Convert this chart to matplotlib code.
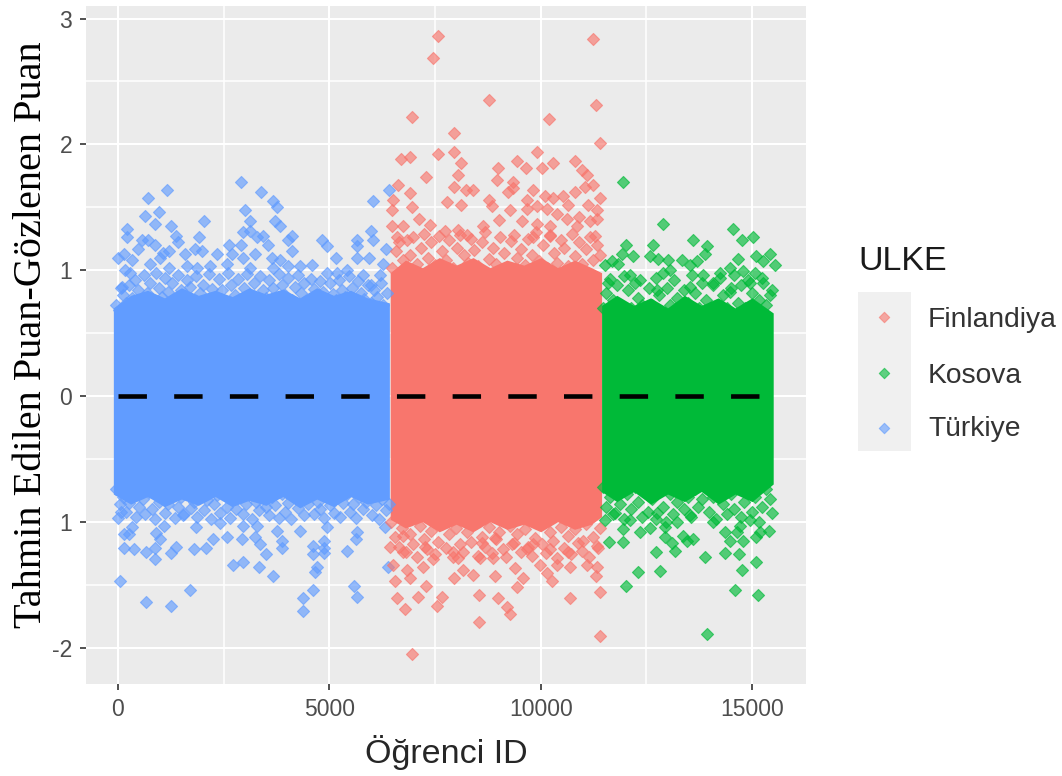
"""Tahmin edilen - gozlenen puan, ulkelere gore dagilim"""
import matplotlib
matplotlib.use('Agg')
import matplotlib.pyplot as plt
from matplotlib.patches import Rectangle

plt.rcParams['font.family'] = ['Liberation Sans', 'DejaVu Sans']

ulke_names = ['Finlandiya', 'Kosova', 'Türkiye']
ulke_colors = ['#F8766D', '#00BA38', '#619CFF']

x_ticks = [0, 5000, 10000, 15000]
y_ticks = [-2, -1, 0, 1, 2, 3]
y_tick_labels = ['-2', '1', '0', '1', '2', '3']  # resimde -1 yerine "1" yaziyor

# tek tek okunabilen noktalar (ID, fark)
turkiye_x = [1152, 702, 2903, 3376, 3660, 3770, 978, 647, 3013, 867, 3123, 2035, 1262, 205, 205,
             3715, 3833, 1924, 1372, 1428, 2965, 3123, 3281, 3439, 2903, 3557, 4109, 4030, 4109,
             4819, 4937, 5160, 5647, 5647, 6026, 6026, 5980, 6420, 5647, 5931, 6348, 1822, 1979,
             1585, 10, 150, 323, 165, 283, 560, 480, 718, 875, 1073, 1215, 757, 993, 2634, 2690,
             2335, 2965, 3241, 3636, 3833, 3675, 4030, 4307, 4583, 4937, 5175, 5412, 5805, 6278,
             6199, 5980, 87, 1624, 1861, 2176, 2570, 3123, 1215,
             47, 654, 1254, 1703, 4385, 4385, 4606, 4662, 4717, 5593, 5647, 3675, 3344, 2965, 2728,
             3502, 3889, 3889, 3360, 3241, 2926, 2570, 2239, 2081, 1806, 1372, 1254, 867, 654, 378,
             150, 875, 993, 899, 252, 134, 323, 4606, 4606, 4882, 4882, 4882, 5427, 5647, 5632,
             4307, 3770, 4937, 1845, 2949, 3281, 6320, 10, 70, 1530, 1080, 2410, 6395]
turkiye_y = [1.64, 1.57, 1.70, 1.62, 1.55, 1.50, 1.46, 1.43, 1.48, 1.37, 1.39, 1.39, 1.35, 1.33, 1.26,
             1.39, 1.35, 1.26, 1.27, 1.22, 1.30, 1.31, 1.26, 1.27, 1.20, 1.20, 1.27, 1.24, 1.15,
             1.24, 1.19, 1.10, 1.24, 1.19, 1.55, 1.24, 1.31, 1.64, 1.10, 1.10, 1.17, 1.17, 1.15,
             1.13, 1.10, 1.13, 1.08, 1.00, 0.98, 1.24, 1.17, 1.24, 1.20, 1.14, 1.15, 1.05, 1.10, 1.20, 1.13,
             1.13, 1.10, 1.13, 1.10, 1.08, 1.02, 1.03, 1.03, 1.04, 0.98, 0.98, 1.00, 0.96, 1.05,
             0.96, 0.88, 0.87, 1.03, 1.02, 1.03, 1.05, 1.02, 1.02,
             -1.47, -1.64, -1.67, -1.54, -1.61, -1.71, -1.54, -1.40, -1.36, -1.51, -1.60, -1.43, -1.36, -1.32, -1.34,
             -1.26, -1.21, -1.15, -1.18, -1.12, -1.14, -1.12, -1.14, -1.21, -1.22, -1.20, -1.25, -1.30, -1.24, -1.22,
             -1.21, -1.21, -1.14, -1.09, -1.10, -1.10, -1.04, -1.19, -1.26, -1.15, -1.21, -1.25, -1.23, -1.08, -1.14,
             -1.07, -1.07, -1.04, -1.04, -1.03, -1.03, -1.04, -0.97, -0.92, -0.95, -1.03, -1.01, -1.36]

finlandiya_x = [7571, 7460, 11246, 8778, 11309, 6964, 10205, 7950, 11404, 7950, 7563, 9922, 6909, 6689,
                8116, 8991, 9432, 9646, 10040, 10300, 10812, 7288, 8052, 10971, 11089, 11246, 11049,
                10812, 6633, 7950, 8226, 8406, 8959, 9354, 9354, 9236, 9827, 6909, 6514, 11404, 7792,
                8116, 8778, 8841, 9670, 10103, 10300, 10536, 6475, 6964, 9275, 9670, 9906, 10142, 10639,
                11128, 11325, 9023, 9551, 9922, 10379, 10617, 10907, 11325, 6475, 6751, 7122, 7382, 8052,
                7737, 8644, 10221, 10853, 11167, 9827, 10221, 11286, 6594, 8250,
                6964, 11404, 8549, 9275, 9196, 7555, 6798, 6594, 7106, 7673, 8549, 8991, 10694, 11404,
                9433, 7288, 6554, 6909, 9590, 10261, 11309, 7950, 8920, 8406, 7224, 6831, 6499, 9393,
                9985, 10380, 10694, 11325, 11089, 10142, 8170, 7460, 8052, 8880, 8565, 6436, 6751, 7264,
                7933, 8605, 9315, 9670, 10221, 10654, 11002, 11365, 8920, 9827, 6743]
finlandiya_y = [2.86, 2.69, 2.84, 2.35, 2.31, 2.22, 2.20, 2.09, 2.01, 1.94, 1.92, 1.94, 1.90, 1.88,
                1.85, 1.81, 1.87, 1.81, 1.81, 1.85, 1.87, 1.74, 1.76, 1.80, 1.76, 1.68, 1.66,
                1.62, 1.68, 1.66, 1.64, 1.64, 1.72, 1.70, 1.65, 1.62, 1.64, 1.61, 1.56, 1.57, 1.54,
                1.52, 1.56, 1.51, 1.56, 1.59, 1.57, 1.59, 1.48, 1.50, 1.48, 1.49, 1.51, 1.49, 1.52,
                1.52, 1.48, 1.40, 1.39, 1.37, 1.45, 1.41, 1.42, 1.41, 1.35, 1.35, 1.41, 1.36, 1.32,
                1.31, 1.35, 1.35, 1.35, 1.39, 1.26, 1.28, 1.27, 1.26, 1.28,
                -2.05, -1.91, -1.80, -1.73, -1.68, -1.67, -1.69, -1.61, -1.60, -1.60, -1.58, -1.61, -1.61, -1.56,
                -1.52, -1.51, -1.47, -1.45, -1.45, -1.47, -1.43, -1.45, -1.43, -1.42, -1.36, -1.38, -1.34, -1.37,
                -1.34, -1.34, -1.36, -1.36, -1.34, -1.41, -1.38, -1.30, -1.29, -1.29, -1.29, -1.20, -1.24, -1.20,
                -1.24, -1.17, -1.18, -1.22, -1.22, -1.24, -1.15, -1.21, -1.13, -1.18, -1.11]

kosova_x = [11956, 12887, 14543, 14764, 15032, 13612, 13943, 13888, 12665, 12012, 11932, 12177, 12587,
            12784, 13337, 13692, 13021, 15426, 15087, 14676, 15545, 15268, 14480, 14243, 13534, 11680,
            11522, 11837, 15467, 15230, 13060, 11600, 12114, 12350, 13849, 14795, 14085, 14953, 12745,
            14480, 13534,
            13928, 15150, 14590, 12012, 12311, 12832, 14764, 15087, 13881, 14700, 14370, 12729, 13171,
            13100, 11625, 11956, 13455, 13612, 14480, 14795, 11956, 12350, 12942, 13375, 14362, 14637,
            15087, 15410, 15190, 12587, 12942, 14085, 14717, 15467, 13534, 12114, 11522, 11759, 12745,
            13218, 14953]
kosova_y = [1.70, 1.37, 1.33, 1.24, 1.26, 1.24, 1.19, 1.13, 1.20, 1.20, 1.13, 1.11, 1.11,
            1.09, 1.08, 1.07, 1.08, 1.13, 1.11, 1.09, 1.04, 1.07, 1.02, 0.98, 1.04, 1.07,
            1.04, 1.05, 0.84, 0.94, 1.00, 0.90, 0.96, 0.92, 0.96, 0.99, 0.90, 0.90, 0.84,
            0.83, 0.87,
            -1.89, -1.58, -1.54, -1.51, -1.40, -1.39, -1.38, -1.32, -1.28, -1.26, -1.25, -1.24, -1.23,
            -1.17, -1.16, -1.16, -1.15, -1.14, -1.15, -1.15, -1.06, -1.08, -1.12, -1.11, -1.08, -1.08,
            -1.12, -1.07, -1.08, -1.05, -1.04, -1.00, -1.03, -0.93, -0.95, -0.99, -0.99, -0.93, -0.93,
            -1.00, -0.99]

# govde kenari: tam sayilamayan bolge, yaklasik tahmin edilmis noktalar
turkiye_edge_x = [-40, 60, 120, 30, 190, 260, 330, 410, 470, 540, 620, 680, 750, 830, 900, 960, 1040, 1120,
                  1190, 1270, 1340, 1420, 1480, 1560, 1640, 1710, 1790, 1850, 1930, 2010, 2090, 2150, 2230,
                  2310, 2380, 2460, 2530, 2610, 2680, 2760, 2840, 2900, 2980, 3060, 3130, 3210, 3290, 3350,
                  3430, 3510, 3580, 3660, 3740, 3800, 3880, 3960, 4030, 4110, 4190, 4250, 4330, 4410, 4480,
                  4560, 4640, 4700, 4780, 4860, 4930, 5010, 5090, 5150, 5230, 5310, 5380, 5460, 5540, 5600,
                  5680, 5760, 5830, 5910, 5990, 6050, 6130, 6210, 6280, 6360,
                  -50, 40, 110, 190, 270, 350, 420, 500, 580, 650, 730, 810, 880, 960, 1040, 1110, 1190, 1270,
                  1340, 1420, 1500, 1570, 1650, 1730, 1800, 1880, 1960, 2030, 2110, 2190, 2260, 2340, 2420,
                  2490, 2570, 2650, 2720, 2800, 2880, 2950, 3030, 3110, 3180, 3260, 3340, 3410, 3490, 3570,
                  3640, 3720, 3800, 3870, 3950, 4030, 4100, 4180, 4260, 4330, 4410, 4490, 4560, 4640, 4720,
                  4790, 4870, 4950, 5020, 5100, 5180, 5250, 5330, 5410, 5480, 5560, 5640, 5710, 5790, 5870,
                  5940, 6020, 6100, 6170, 6250, 6330, 6400]
turkiye_edge_y = [0.72, 0.86, 0.80, 0.68, 0.74, 0.88, 0.78, 0.92, 0.84, 0.74, 0.96, 0.82, 0.90, 0.76, 0.98, 0.86,
                  0.79, 0.94, 0.83, 0.90, 0.75, 0.96, 0.84, 0.78, 0.92, 0.87, 0.74, 0.95, 0.82, 0.88, 0.76, 0.97,
                  0.85, 0.79, 0.93, 0.84, 0.75, 0.98, 0.88, 0.80, 0.93, 0.76, 0.86, 0.97, 0.81, 0.90, 0.75, 0.95,
                  0.84, 0.78, 0.92, 0.86, 0.74, 0.97, 0.88, 0.80, 0.94, 0.76, 0.87, 0.96, 0.82, 0.90, 0.75, 0.93,
                  0.85, 0.78, 0.91, 0.83, 0.74, 0.90, 0.81, 0.76, 0.92, 0.84, 0.79, 0.95, 0.86, 0.75, 0.91, 0.82,
                  0.77, 0.88, 0.74, 0.84, 0.79, 0.90, 0.72, 0.82,
                  -0.74, -0.86, -0.80, -0.92, -0.85, -0.78, -0.96, -0.88, -0.82, -0.94, -0.76, -0.90, -0.98, -0.84,
                  -0.79, -0.93, -0.86, -0.76, -0.97, -0.88, -0.80, -0.94, -0.78, -0.89, -0.84, -0.96, -0.75, -0.91,
                  -0.83, -0.98, -0.86, -0.79, -0.93, -0.76, -0.88, -0.97, -0.82, -0.90, -0.75, -0.94, -0.86, -0.79,
                  -0.98, -0.84, -0.91, -0.76, -0.88, -0.95, -0.80, -0.87, -0.97, -0.78, -0.92, -0.85, -0.98, -0.76,
                  -0.89, -0.82, -0.95, -0.86, -0.78, -0.94, -0.84, -0.90, -0.97, -0.76, -0.87, -0.93, -0.81, -0.96,
                  -0.85, -0.78, -0.92, -0.86, -0.97, -0.80, -0.90, -0.84, -0.76, -0.95, -0.87, -0.98, -0.82, -0.91,
                  -0.86]

finlandiya_edge_x = [6480, 6570, 6650, 6740, 6830, 6900, 6990, 7080, 7160, 7250, 7330, 7410, 7500, 7590, 7670, 7760,
                     7840, 7920, 8010, 8100, 8180, 8270, 8350, 8430, 8520, 8610, 8690, 8780, 8860, 8940, 9030, 9120,
                     9200, 9290, 9370, 9450, 9540, 9630, 9710, 9800, 9880, 9960, 10050, 10140, 10220, 10310, 10390,
                     10470, 10560, 10650, 10730, 10820, 10900, 10980, 11070, 11160, 11240, 11330, 11400,
                     6470, 6560, 6640, 6730, 6810, 6900, 6980, 7070, 7150, 7240, 7320, 7410, 7490, 7580, 7660, 7750,
                     7830, 7920, 8000, 8090, 8170, 8260, 8340, 8430, 8510, 8600, 8680, 8770, 8850, 8940, 9020, 9110,
                     9190, 9280, 9360, 9450, 9530, 9620, 9700, 9790, 9870, 9960, 10040, 10130, 10210, 10300, 10380,
                     10470, 10550, 10640, 10720, 10810, 10890, 10980, 11060, 11150, 11230, 11320, 11410]
finlandiya_edge_y = [1.02, 1.15, 1.22, 1.08, 1.24, 1.12, 1.26, 1.05, 1.18, 1.29, 1.10, 1.22, 1.04, 1.27, 1.15, 1.08,
                     1.24, 1.02, 1.18, 1.28, 1.12, 1.06, 1.25, 1.16, 1.03, 1.22, 1.30, 1.09, 1.18, 1.05, 1.26, 1.14,
                     1.02, 1.23, 1.28, 1.10, 1.17, 1.04, 1.25, 1.12, 1.30, 1.07, 1.20, 1.02, 1.27, 1.14, 1.06, 1.24,
                     1.18, 1.03, 1.29, 1.11, 1.22, 1.05, 1.17, 1.26, 1.08, 1.20, 1.12,
                     -1.00, -1.12, -1.20, -1.05, -1.24, -1.10, -1.18, -1.28, -1.03, -1.14, -1.22, -1.07, -1.26, -1.16,
                     -1.02, -1.21, -1.10, -1.28, -1.05, -1.18, -1.24, -1.08, -1.16, -1.02, -1.27, -1.12, -1.20, -1.04,
                     -1.25, -1.14, -1.08, -1.22, -1.28, -1.03, -1.17, -1.10, -1.24, -1.06, -1.20, -1.27, -1.13, -1.02,
                     -1.18, -1.25, -1.08, -1.15, -1.29, -1.04, -1.21, -1.11, -1.26, -1.06, -1.17, -1.23, -1.02, -1.28,
                     -1.12, -1.19, -1.05]

kosova_edge_x = [11470, 11550, 11640, 11720, 11800, 11890, 11970, 12060, 12140, 12220, 12310, 12390, 12480, 12560,
                 12640, 12730, 12810, 12900, 12980, 13060, 13150, 13230, 13320, 13400, 13480, 13570, 13650, 13740,
                 13820, 13900, 13990, 14070, 14160, 14240, 14320, 14410, 14490, 14580, 14660, 14740, 14830, 14910,
                 15000, 15080, 15160, 15250, 15330, 15420,
                 11470, 11540, 11630, 11710, 11800, 11880, 11970, 12050, 12130, 12220, 12300, 12390, 12470, 12550,
                 12640, 12720, 12810, 12890, 12970, 13060, 13140, 13230, 13310, 13390, 13480, 13560, 13650, 13730,
                 13810, 13900, 13980, 14070, 14150, 14230, 14320, 14400, 14490, 14570, 14650, 14740, 14820, 14910,
                 14990, 15070, 15160, 15240, 15330, 15420]
kosova_edge_y = [0.70, 0.82, 0.93, 0.76, 0.88, 0.72, 0.95, 0.84, 0.70, 0.90, 0.78, 0.72, 0.66, 0.86, 0.72, 0.94,
                 0.80, 0.98, 0.86, 0.72, 0.92, 0.78, 0.68, 0.84, 0.74, 0.96, 0.82, 0.70, 0.90, 0.76, 0.66, 0.88,
                 0.72, 0.94, 0.80, 0.70, 0.86, 0.96, 0.74, 0.88, 0.70, 0.92, 0.82, 0.98, 0.76, 0.90, 0.72, 0.80,
                 -0.72, -0.88, -0.80, -0.94, -0.74, -0.86, -0.98, -0.78, -0.90, -0.72, -0.84, -0.96, -0.76, -0.92,
                 -0.82, -0.98, -0.70, -0.88, -1.00, -0.78, -0.94, -0.84, -0.72, -0.90, -0.80, -0.96, -0.74, -0.88,
                 -0.82, -0.70, -0.92, -0.80, -0.98, -0.74, -0.86, -0.94, -0.78, -0.90, -0.70, -0.96, -0.84, -0.76,
                 -0.92, -0.80, -1.00, -0.88, -0.74, -0.82]

# noktalarin tamamen ortustugu govde tek tek okunamiyor, ust/alt siniri okunup alan olarak cizildi
turkiye_band_x = [-110, 300, 700, 1100, 1500, 1900, 2300, 2700, 3100, 3500, 3900, 4300, 4700, 5100, 5500, 5900, 6420]
turkiye_top = [0.70, 0.80, 0.84, 0.78, 0.86, 0.80, 0.84, 0.79, 0.86, 0.81, 0.85, 0.78, 0.86, 0.80, 0.84, 0.78, 0.74]
turkiye_bottom = [-0.78, -0.86, -0.80, -0.88, -0.82, -0.87, -0.80, -0.88, -0.83, -0.87, -0.80, -0.89, -0.82, -0.88, -0.80, -0.86, -0.82]

finlandiya_band_x = [6440, 6800, 7200, 7600, 8000, 8400, 8800, 9200, 9600, 10000, 10400, 10800, 11200, 11440]
finlandiya_top = [0.98, 1.08, 1.02, 1.10, 1.04, 1.10, 1.02, 1.08, 1.04, 1.10, 1.02, 1.08, 1.02, 0.98]
finlandiya_bottom = [-0.98, -1.05, -1.00, -1.08, -1.02, -1.08, -1.00, -1.06, -1.02, -1.08, -1.00, -1.06, -1.02, -0.96]

kosova_band_x = [11440, 11800, 12200, 12600, 13000, 13400, 13800, 14200, 14600, 15000, 15500]
kosova_top = [0.72, 0.80, 0.72, 0.78, 0.70, 0.80, 0.72, 0.78, 0.70, 0.78, 0.66]
kosova_bottom = [-0.76, -0.84, -0.76, -0.86, -0.78, -0.84, -0.76, -0.86, -0.78, -0.84, -0.70]

fig = plt.figure(figsize=(10.62, 7.76), dpi=100, facecolor='white')
ax = fig.add_axes([86 / 1062, 92 / 776, 720 / 1062, 678 / 776], facecolor='#EBEBEB')

ax.set_axisbelow(True)
ax.set_xticks(x_ticks)
ax.set_xticks([2500, 7500, 12500], minor=True)
ax.set_yticks(y_ticks)
ax.set_yticklabels(y_tick_labels)
ax.set_yticks([-1.5, -0.5, 0.5, 1.5, 2.5], minor=True)
ax.grid(which='major', color='white', linewidth=1.5)
ax.grid(which='minor', color='white', linewidth=1.1)
ax.tick_params(which='minor', length=0)
ax.tick_params(which='major', length=4, width=1.2, color='#333333', labelcolor='#4D4D4D', labelsize=16.5, pad=6)
for spine in ax.spines.values():
    spine.set_visible(False)

ax.fill_between(turkiye_band_x, turkiye_bottom, turkiye_top, color=ulke_colors[2], linewidth=0, zorder=2)
ax.fill_between(finlandiya_band_x, finlandiya_bottom, finlandiya_top, color=ulke_colors[0], linewidth=0, zorder=2)
ax.fill_between(kosova_band_x, kosova_bottom, kosova_top, color=ulke_colors[1], linewidth=0, zorder=2)

ax.scatter(turkiye_x + turkiye_edge_x, turkiye_y + turkiye_edge_y, s=38, marker='D', color=ulke_colors[2], alpha=0.65, linewidths=0.8, zorder=3)
ax.scatter(finlandiya_x + finlandiya_edge_x, finlandiya_y + finlandiya_edge_y, s=38, marker='D', color=ulke_colors[0], alpha=0.65, linewidths=0.8, zorder=3)
ax.scatter(kosova_x + kosova_edge_x, kosova_y + kosova_edge_y, s=38, marker='D', color=ulke_colors[1], alpha=0.65, linewidths=0.8, zorder=3)

ax.plot([0, 15170], [0, 0], color='black', linewidth=3.3, linestyle=(0, (6.2, 5.95)), dash_capstyle='butt', zorder=4)

ax.set_xlim(-757, 16276)
ax.set_ylim(-2.29, 3.10)

fig.text(446 / 1062, 1 - 752 / 776, 'Öğrenci ID', ha='center', va='center', fontsize=24.5, color='#262626')
fig.text(32 / 1062, 1 - 335 / 776, 'Tahmin Edilen Puan-Gözlenen Puan', rotation=90, ha='center', va='center',
         fontsize=29, color='black', family='Liberation Serif')

# lejant elle, piksel olcekli tam sayfa eksende
leg = fig.add_axes([0, 0, 1, 1], facecolor='none')
leg.set_xlim(0, 1062)
leg.set_ylim(776, 0)
leg.axis('off')
leg.add_patch(Rectangle((858, 292), 53, 159, facecolor='#F0F0F0', edgecolor='none'))
leg.text(858, 261, 'ULKE', fontsize=24.5, color='#1A1A1A', ha='left', va='center')
for name, color, key_y, text_y in zip(ulke_names, ulke_colors, [317, 373, 428], [320, 376, 429]):
    leg.scatter([884], [key_y], s=28, marker='D', color=color, alpha=0.6, linewidths=0.8)
    leg.text(928, text_y, name, fontsize=20.3, color='#333333', ha='left', va='center')

fig.savefig('out.png', dpi=100)
